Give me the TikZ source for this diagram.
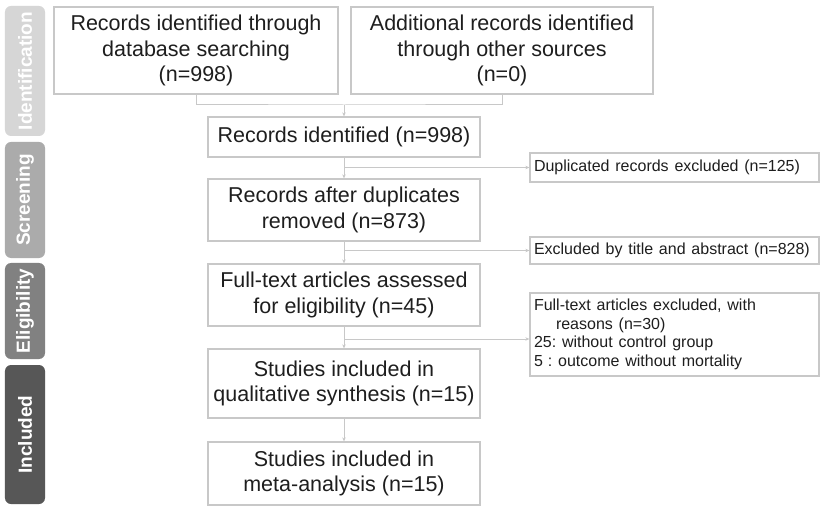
\documentclass[tikz,border=0pt]{standalone}
\usepackage{fontspec}
\setmainfont{Liberation Sans}
\usetikzlibrary{arrows.meta}
\frenchspacing
\newcommand\widewords{\spaceskip=5.8bp plus 1bp minus 1bp\relax}
\definecolor{linegray}{HTML}{C8C8C8}
\definecolor{txt}{HTML}{1E1E1E}
\definecolor{barA}{HTML}{D6D6D6}
\definecolor{barB}{HTML}{ABABAB}
\definecolor{barC}{HTML}{818181}
\definecolor{barD}{HTML}{575757}
\tikzset{
  mainbox/.style={draw=linegray, line width=1.3bp, fill=white, text=txt, align=center,
    inner sep=0pt, font=\fontsize{21.5bp}{25.5bp}\selectfont},
  sidebox/.style={draw=linegray, line width=1.3bp, fill=white, text=txt, align=left,
    inner sep=0pt, font=\fontsize{16bp}{18.7bp}\selectfont},
  conn/.style={draw=linegray, line width=1bp},
  arr/.style={conn, -{Stealth[length=4bp,width=3.5bp]}},
  phase/.style={rounded corners=6bp, draw=none, text=white, rotate=90,
    inner sep=0pt, font=\bfseries\fontsize{19bp}{22bp}\selectfont}
}
\begin{document}
\begin{tikzpicture}[x=1bp,y=-1bp]
\useasboundingbox[fill=white] (0,0) rectangle (829,515);

% phase bars
\node[phase, fill=barA, minimum width=130bp, minimum height=40bp] (pI) at (25,71) {Identification};
\node[phase, fill=barB, minimum width=116bp, minimum height=40bp] (pS) at (25,200) {Screening};
\node[phase, fill=barC, minimum width=96bp, minimum height=40bp] (pE) at (25,311) {Eligibility};
\node[phase, fill=barD, minimum width=139bp, minimum height=40bp] (pN) at (25,434.5) {Included};

% main column
\node[mainbox, minimum width=284bp, minimum height=87bp] (b1) at (196,50.5)
  {Records identified through\\database searching\\(n=998)};
\node[mainbox, minimum width=302bp, minimum height=87bp] (b2) at (502,50.5)
  {Additional records identified\\through other sources\\(n=0)};
\node[mainbox, minimum width=272bp, minimum height=40bp] (b3) at (344,137)
  {Records identified (n=998)};
\node[mainbox, minimum width=272bp, minimum height=62bp] (b4) at (344,210)
  {Records after duplicates\\removed (n=873)};
\node[mainbox, minimum width=272bp, minimum height=62bp] (b5) at (344,295)
  {Full-text articles assessed\\for eligibility (n=45)};
\node[mainbox, minimum width=272bp, minimum height=69bp] (b6) at (344,383.5)
  {Studies included in\\qualitative synthesis (n=15)};
\node[mainbox, minimum width=272bp, minimum height=63bp] (b7) at (344,473.5)
  {Studies included in\\meta-analysis (n=15)};

% exclusion boxes
\node[sidebox, minimum width=289bp, minimum height=29bp, text width=281bp] (e1) at (674.5,167.5)
  {\widewords Duplicated records excluded (n=125)};
\node[sidebox, minimum width=289bp, minimum height=27bp, text width=281bp] (e2) at (674.5,250.5)
  {\widewords Excluded by title and abstract (n=828)};
\node[sidebox, minimum width=289bp, minimum height=83bp, text width=281bp] (e3) at (674.5,334.5)
  {\widewords Full-text articles excluded, with\\\hspace*{22bp}reasons (n=30)\\25: without control group\\5\hspace*{5bp}: outcome without mortality};

% connectors
\coordinate (j) at (344,105);
\draw[conn] (b1.south) |- (j) -| (b2.south);
\draw[arr] (j) -- (b3.north);
\draw[arr] (b3.south) -- (b4.north);
\draw[arr] (b4.south) -- (b5.north);
\draw[arr] (b5.south) -- (b6.north);
\draw[arr] (b6.south) -- (b7.north);

\draw[arr] (b3.south |- e1.west) -- (e1.west);
\draw[arr] (b4.south |- e2.west) -- (e2.west);
\coordinate (k3) at (344,339);
\draw[arr] (k3) -- (k3 -| e3.west);
\end{tikzpicture}
\end{document}
